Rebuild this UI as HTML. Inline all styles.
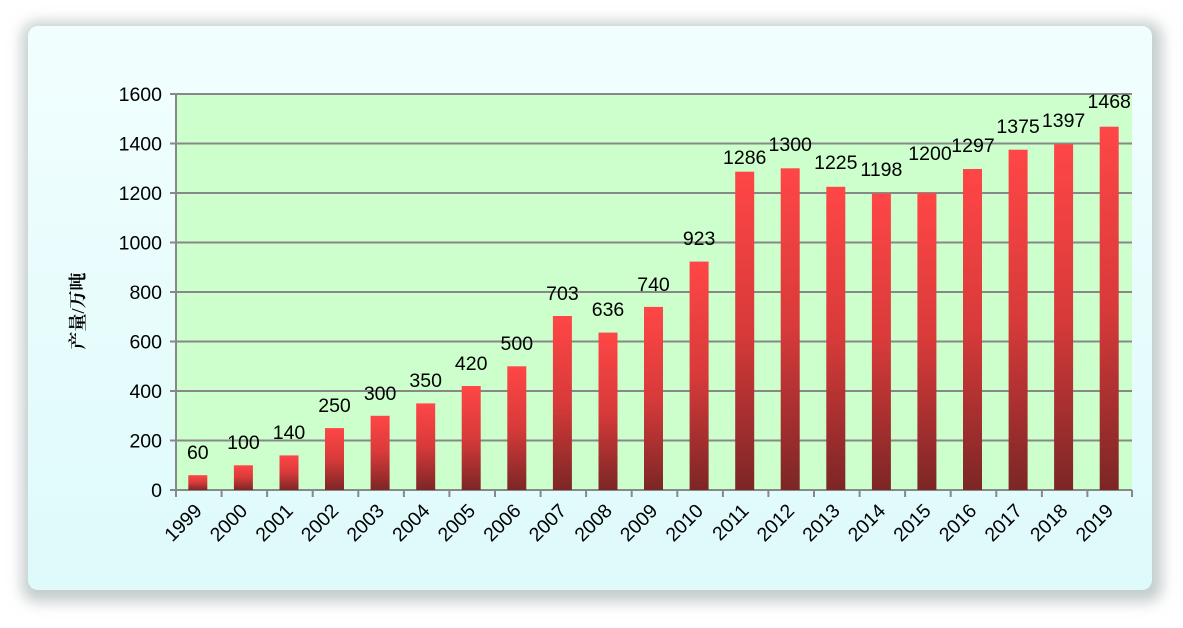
<!DOCTYPE html>
<html><head><meta charset="utf-8"><style>
html,body{margin:0;padding:0;background:#fff;}
</style></head><body>
<svg width="1183" height="623" xmlns="http://www.w3.org/2000/svg" font-family="Liberation Sans, sans-serif">
<defs>
<filter id="sh" x="-5%" y="-5%" width="110%" height="115%"><feGaussianBlur stdDeviation="7"/></filter>
<linearGradient id="bg" x1="0" y1="0" x2="0" y2="1"><stop offset="0" stop-color="#f2fefe"/><stop offset="1" stop-color="#defafb"/></linearGradient>
<linearGradient id="bar" x1="0" y1="0" x2="0" y2="1"><stop offset="0" stop-color="#ff4646"/><stop offset="0.5" stop-color="#d83a3a"/><stop offset="1" stop-color="#7c2626"/></linearGradient>
</defs>
<rect x="22" y="22" width="1140" height="580" rx="14" fill="#c4cccc" filter="url(#sh)"/>
<rect x="28" y="26" width="1124" height="564" rx="10" fill="url(#bg)"/>
<rect x="176" y="94" width="956" height="396" fill="#ccffcc"/>
<g stroke="#888" stroke-width="2">
<line x1="170" y1="94" x2="1132" y2="94"/><line x1="170" y1="143.5" x2="1132" y2="143.5"/><line x1="170" y1="193" x2="1132" y2="193"/><line x1="170" y1="242.5" x2="1132" y2="242.5"/><line x1="170" y1="292" x2="1132" y2="292"/><line x1="170" y1="341.5" x2="1132" y2="341.5"/><line x1="170" y1="391" x2="1132" y2="391"/><line x1="170" y1="440.5" x2="1132" y2="440.5"/><line x1="170" y1="490" x2="1132" y2="490"/>
<line x1="176" y1="94" x2="176" y2="497"/>
<line x1="221.6" y1="490" x2="221.6" y2="497"/><line x1="267.1" y1="490" x2="267.1" y2="497"/><line x1="312.7" y1="490" x2="312.7" y2="497"/><line x1="358.3" y1="490" x2="358.3" y2="497"/><line x1="403.9" y1="490" x2="403.9" y2="497"/><line x1="449.4" y1="490" x2="449.4" y2="497"/><line x1="495" y1="490" x2="495" y2="497"/><line x1="540.6" y1="490" x2="540.6" y2="497"/><line x1="586.1" y1="490" x2="586.1" y2="497"/><line x1="631.7" y1="490" x2="631.7" y2="497"/><line x1="677.3" y1="490" x2="677.3" y2="497"/><line x1="722.9" y1="490" x2="722.9" y2="497"/><line x1="768.4" y1="490" x2="768.4" y2="497"/><line x1="814" y1="490" x2="814" y2="497"/><line x1="859.6" y1="490" x2="859.6" y2="497"/><line x1="905.1" y1="490" x2="905.1" y2="497"/><line x1="950.7" y1="490" x2="950.7" y2="497"/><line x1="996.3" y1="490" x2="996.3" y2="497"/><line x1="1041.9" y1="490" x2="1041.9" y2="497"/><line x1="1087.4" y1="490" x2="1087.4" y2="497"/><line x1="1132" y1="490" x2="1132" y2="497"/>
</g>
<g fill="url(#bar)">
<rect x="188.3" y="475.2" width="19" height="14.8"/><rect x="233.9" y="465.3" width="19" height="24.7"/><rect x="279.5" y="455.4" width="19" height="34.6"/><rect x="325" y="428.1" width="19" height="61.9"/><rect x="370.6" y="415.8" width="19" height="74.2"/><rect x="416.2" y="403.4" width="19" height="86.6"/><rect x="461.7" y="386" width="19" height="104"/><rect x="507.3" y="366.3" width="19" height="123.7"/><rect x="552.9" y="316" width="19" height="174"/><rect x="598.5" y="332.6" width="19" height="157.4"/><rect x="644" y="306.9" width="19" height="183.1"/><rect x="689.6" y="261.6" width="19" height="228.4"/><rect x="735.2" y="171.7" width="19" height="318.3"/><rect x="780.7" y="168.3" width="19" height="321.7"/><rect x="826.3" y="186.8" width="19" height="303.2"/><rect x="871.9" y="193.5" width="19" height="296.5"/><rect x="917.4" y="193" width="19" height="297"/><rect x="963" y="169" width="19" height="321"/><rect x="1008.6" y="149.7" width="19" height="340.3"/><rect x="1054.1" y="144.2" width="19" height="345.8"/><rect x="1099.7" y="126.7" width="19" height="363.3"/>
</g>
<g font-size="19.5" text-anchor="end" fill="#000">
<text x="162" y="101">1600</text><text x="162" y="150.5">1400</text><text x="162" y="200">1200</text><text x="162" y="249.5">1000</text><text x="162" y="299">800</text><text x="162" y="348.5">600</text><text x="162" y="398">400</text><text x="162" y="447.5">200</text><text x="162" y="497">0</text>
</g>
<g font-size="19.5" text-anchor="middle" fill="#000">
<text x="197.8" y="459">60</text><text x="243.4" y="449">100</text><text x="289" y="439">140</text><text x="334.5" y="412">250</text><text x="380.1" y="400">300</text><text x="425.7" y="387">350</text><text x="471.2" y="370">420</text><text x="516.8" y="350">500</text><text x="562.4" y="300">703</text><text x="608" y="316">636</text><text x="653.5" y="291">740</text><text x="699.1" y="245">923</text><text x="744.7" y="164">1286</text><text x="790.2" y="151">1300</text><text x="835.8" y="169">1225</text><text x="881.4" y="176">1198</text><text x="930" y="160">1200</text><text x="973" y="152">1297</text><text x="1018.1" y="133">1375</text><text x="1063.6" y="127">1397</text><text x="1109.2" y="108">1468</text>
</g>
<g font-size="19.5" text-anchor="end" fill="#000">
<text transform="translate(203,512) rotate(-45)">1999</text><text transform="translate(248.6,512) rotate(-45)">2000</text><text transform="translate(294.2,512) rotate(-45)">2001</text><text transform="translate(339.7,512) rotate(-45)">2002</text><text transform="translate(385.3,512) rotate(-45)">2003</text><text transform="translate(430.9,512) rotate(-45)">2004</text><text transform="translate(476.4,512) rotate(-45)">2005</text><text transform="translate(522,512) rotate(-45)">2006</text><text transform="translate(567.6,512) rotate(-45)">2007</text><text transform="translate(613.2,512) rotate(-45)">2008</text><text transform="translate(658.7,512) rotate(-45)">2009</text><text transform="translate(704.3,512) rotate(-45)">2010</text><text transform="translate(749.9,512) rotate(-45)">2011</text><text transform="translate(795.4,512) rotate(-45)">2012</text><text transform="translate(841,512) rotate(-45)">2013</text><text transform="translate(886.6,512) rotate(-45)">2014</text><text transform="translate(932.1,512) rotate(-45)">2015</text><text transform="translate(977.7,512) rotate(-45)">2016</text><text transform="translate(1023.3,512) rotate(-45)">2017</text><text transform="translate(1068.8,512) rotate(-45)">2018</text><text transform="translate(1114.4,512) rotate(-45)">2019</text>
</g>
<text transform="translate(84,311) rotate(-90)" text-anchor="middle" font-size="18" font-weight="bold" font-family="Liberation Serif, Noto Serif CJK SC, serif">产量/万吨</text>
</svg>
</body></html>
